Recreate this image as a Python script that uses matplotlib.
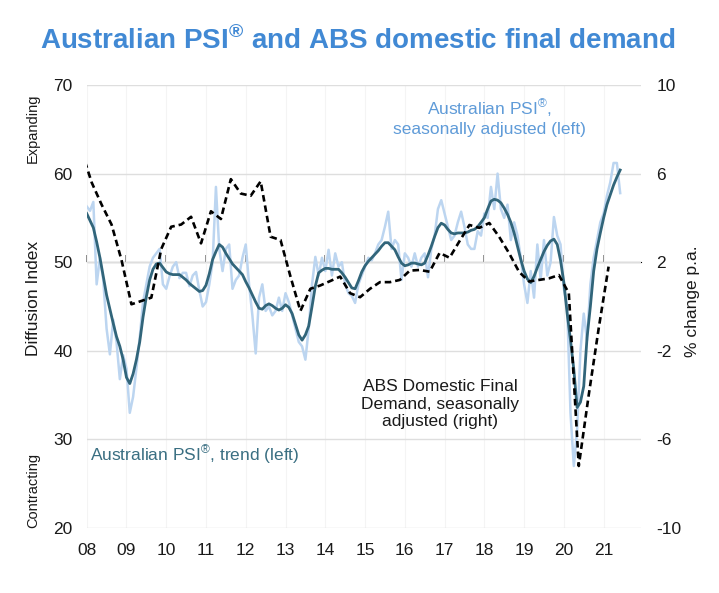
"""Australian PSI vs ABS domestic final demand, recreated with matplotlib."""

import matplotlib
matplotlib.use("Agg")
import matplotlib.pyplot as plt
import numpy as np
import pandas as pd

plt.rcParams["font.family"] = ["Liberation Sans", "DejaVu Sans"]
plt.rcParams["mathtext.fontset"] = "custom"
plt.rcParams["mathtext.rm"] = "Liberation Sans"
plt.rcParams["mathtext.bf"] = "Liberation Sans:bold"
plt.rcParams["axes.unicode_minus"] = False

# Australian PSI, seasonally adjusted, monthly from Jan 2008 (left axis)
psi_sa = [
    56.3, 55.8, 56.8, 47.5, 50.5, 48.0, 42.5, 39.6, 43.5, 41.0, 36.8, 39.5,
    38.0, 33.0, 34.8, 38.0, 41.5, 45.5, 47.5, 49.5, 50.5, 51.0, 51.5, 47.5,
    47.0, 48.4, 49.5, 50.0, 48.2, 48.8, 48.8, 47.3, 48.5, 48.9, 46.8, 45.0,
    45.5, 47.5, 50.0, 58.5, 51.5, 49.0, 51.5, 52.0, 47.0, 48.0, 48.5, 50.5,
    52.0, 47.5, 44.0, 39.7, 46.0, 47.5, 44.5, 45.0, 44.0, 44.5, 46.0, 44.5,
    46.5, 45.5, 44.0, 42.5, 41.0, 40.5, 39.0, 42.5, 47.5, 50.6, 48.5, 50.5,
    49.0, 51.4, 48.5, 51.0, 49.5, 50.0, 47.5, 46.5, 46.2, 45.4, 47.5, 48.5,
    49.5, 50.5, 50.2, 51.0, 52.0, 52.5, 54.0, 55.7, 51.5, 52.5, 52.0, 48.0,
    51.0, 50.5, 49.5, 51.0, 49.5, 50.5, 51.0, 48.3, 51.5, 53.0, 56.0, 57.0,
    55.5, 54.0, 52.5, 53.0, 54.5, 55.7, 54.0, 52.0, 51.5, 51.5, 53.5, 53.0,
    55.5, 55.0, 58.5, 56.0, 60.0, 56.0, 55.0, 56.5, 52.5, 54.5, 53.0, 50.5,
    47.5, 45.4, 49.0, 46.0, 52.0, 48.0, 52.5, 48.5, 50.0, 55.1, 53.0, 52.0,
    47.0, 45.0, 33.0, 27.0, 31.0, 40.0, 44.2, 41.2, 47.5, 50.5, 52.5, 54.5,
    55.5, 57.5, 59.0, 61.2, 61.2, 57.8,
]

# Australian PSI, trend, monthly from Jan 2008 (left axis)
psi_trend = [
    55.5, 54.7, 53.9, 52.3, 50.5, 48.4, 46.3, 44.7, 43.1, 41.6, 40.5, 39.0,
    37.0, 36.3, 37.4, 39.0, 41.0, 43.8, 46.1, 48.0, 49.2, 49.8, 49.9, 49.4,
    48.9, 48.7, 48.6, 48.6, 48.6, 48.3, 48.0, 47.6, 47.3, 47.0, 46.7, 46.8,
    47.4, 48.7, 50.3, 51.2, 52.0, 51.7, 51.0, 50.4, 49.8, 49.4, 49.0, 48.6,
    47.8, 47.1, 46.3, 45.5, 44.8, 44.7, 45.1, 45.3, 45.1, 44.8, 44.6, 44.8,
    45.2, 44.9, 44.2, 43.0, 41.8, 41.2, 41.8, 42.8, 45.0, 47.3, 48.8, 49.1,
    49.3, 49.3, 49.2, 49.2, 49.2, 48.8, 48.3, 47.7, 47.1, 47.0, 47.9, 48.9,
    49.6, 50.1, 50.5, 50.9, 51.3, 51.8, 52.2, 52.2, 51.8, 51.4, 50.6, 49.9,
    49.6, 49.7, 49.9, 49.9, 49.8, 49.7, 49.9, 50.8, 51.8, 52.9, 53.9, 54.4,
    54.2, 53.7, 53.3, 53.2, 53.3, 53.3, 53.3, 53.4, 53.6, 53.7, 54.0, 54.5,
    55.0, 56.0, 56.9, 57.1, 57.0, 56.7, 56.1, 55.4, 54.5, 53.3, 51.8, 50.3,
    49.0, 48.1, 47.7, 48.4, 49.4, 50.3, 51.2, 51.9, 52.4, 52.6, 52.0, 50.2,
    47.7, 44.2, 41.2, 37.9, 33.6, 34.2, 36.0, 41.5, 45.0, 49.0, 51.5, 53.3,
    55.0, 56.5, 57.6, 58.7, 59.6, 60.4,
]

# ABS domestic final demand, % change p.a., quarterly from Dec 2007 (right axis)
dfd = [
    7.0,
    5.6, 4.6, 3.7, 2.1,
    0.1, 0.25, 0.4, 2.6,
    3.6, 3.7, 4.05, 2.85,
    4.3, 3.95, 5.75, 5.1,
    5.0, 5.65, 3.15, 3.0,
    1.35, -0.2, 0.8, 0.95,
    1.15, 1.35, 0.6, 0.42,
    0.8, 1.1, 1.1, 1.2,
    1.62, 1.65, 1.57, 2.42,
    2.2, 2.95, 3.68, 3.55,
    3.77, 3.14, 2.4, 1.56,
    1.13, 1.2, 1.27, 1.42,
    0.6, -7.2, -4.0, -1.0,
    1.8,
]

years = list(range(2008, 2022))
year_labels = [f"{y % 100:02d}" for y in years]
left_ticks = [20, 30, 40, 50, 60, 70]
right_ticks = [-10, -6, -2, 2, 6, 10]

months = pd.date_range("2008-01-01", periods=len(psi_sa), freq="MS")
t_month = months.year + (months.month - 1) / 12
quarters = pd.date_range("2007-12-01", periods=len(dfd), freq="3MS")
t_quarter = quarters.year + (quarters.month - 1.5) / 12

W, H = 719, 593
fig = plt.figure(figsize=(W / 100, H / 100), dpi=100)
ax = fig.add_axes([86.7 / W, 1 - 528 / H, (641 - 86.7) / W, (528 - 85) / H])
ax2 = ax.twinx()

grid_c = "#dedede"
for a in (ax, ax2):
    for s in a.spines.values():
        s.set_visible(False)

ax.set_xlim(2008, 2021.94)
ax.set_ylim(20, 70)
ax2.set_ylim(-10, 10)

ax.set_yticks(left_ticks)
ax.yaxis.grid(True, color=grid_c, lw=1)
ax.set_xticks(years)
ax.set_xticklabels(year_labels)
ax.xaxis.grid(True, color="#f4f4f4", lw=0.8)
ax.set_axisbelow(True)
ax.tick_params(axis="x", length=0, pad=11, labelsize=12.5, colors="#1a1a1a")
ax.tick_params(axis="y", length=0, pad=10, labelsize=12.5, colors="#1a1a1a")
ax2.set_yticks(right_ticks)
ax2.tick_params(axis="y", length=0, pad=11, labelsize=12.5, colors="#1a1a1a")

# 50 / 2 line with year ticks hanging off it
mid = ax.secondary_xaxis(0.6)
mid.set_xticks(years)
mid.set_xticklabels([])
mid.tick_params(axis="x", direction="out", length=5, width=1.2, color="#7a7a7a")
mid.spines["bottom"].set_color("#7a7a7a")
mid.spines["bottom"].set_linewidth(1.6)

ax.plot(t_month, psi_sa, color="#bcd5f0", lw=1.8, zorder=2)
ax.plot(t_month, psi_trend, color="#31657a", lw=2.0, zorder=3)
ax2.plot(t_quarter, dfd, color="black", lw=1.9, ls=(0, (2.5, 1.5)), zorder=4)


def px(x, y):
    return x / W, 1 - y / H


fig.text(*px(358, 49), r"Australian PSI$^{\mathbf{®}}$ and ABS domestic final demand",
         ha="center", va="baseline", fontsize=20, fontweight="bold", color="#4189d4")

fig.text(*px(489, 117), "Australian PSI$^{®}$,\nseasonally adjusted (left)",
         ha="center", va="center", fontsize=12.5, color="#5f9bd8", linespacing=1.2)
fig.text(*px(440, 404), "ABS Domestic Final\nDemand, seasonally\nadjusted (right)",
         ha="center", va="center", fontsize=12.5, color="#1a1a1a", linespacing=1.2)
fig.text(*px(90, 455), "Australian PSI$^{®}$, trend (left)",
         ha="left", va="center", fontsize=12.5, color="#3a6f82")

fig.text(*px(33, 298), "Diffusion Index", rotation=90, ha="center", va="center",
         fontsize=12.5, color="#1a1a1a")
fig.text(*px(33, 128), "Expanding", rotation=90, ha="center", va="center",
         fontsize=10.5, color="#1a1a1a")
fig.text(*px(33, 490), "Contracting", rotation=90, ha="center", va="center",
         fontsize=10.5, color="#1a1a1a")
fig.text(*px(692, 301), "% change p.a.", rotation=90, ha="center", va="center",
         fontsize=12.5, color="#1a1a1a")

fig.savefig("out.png", dpi=100)
